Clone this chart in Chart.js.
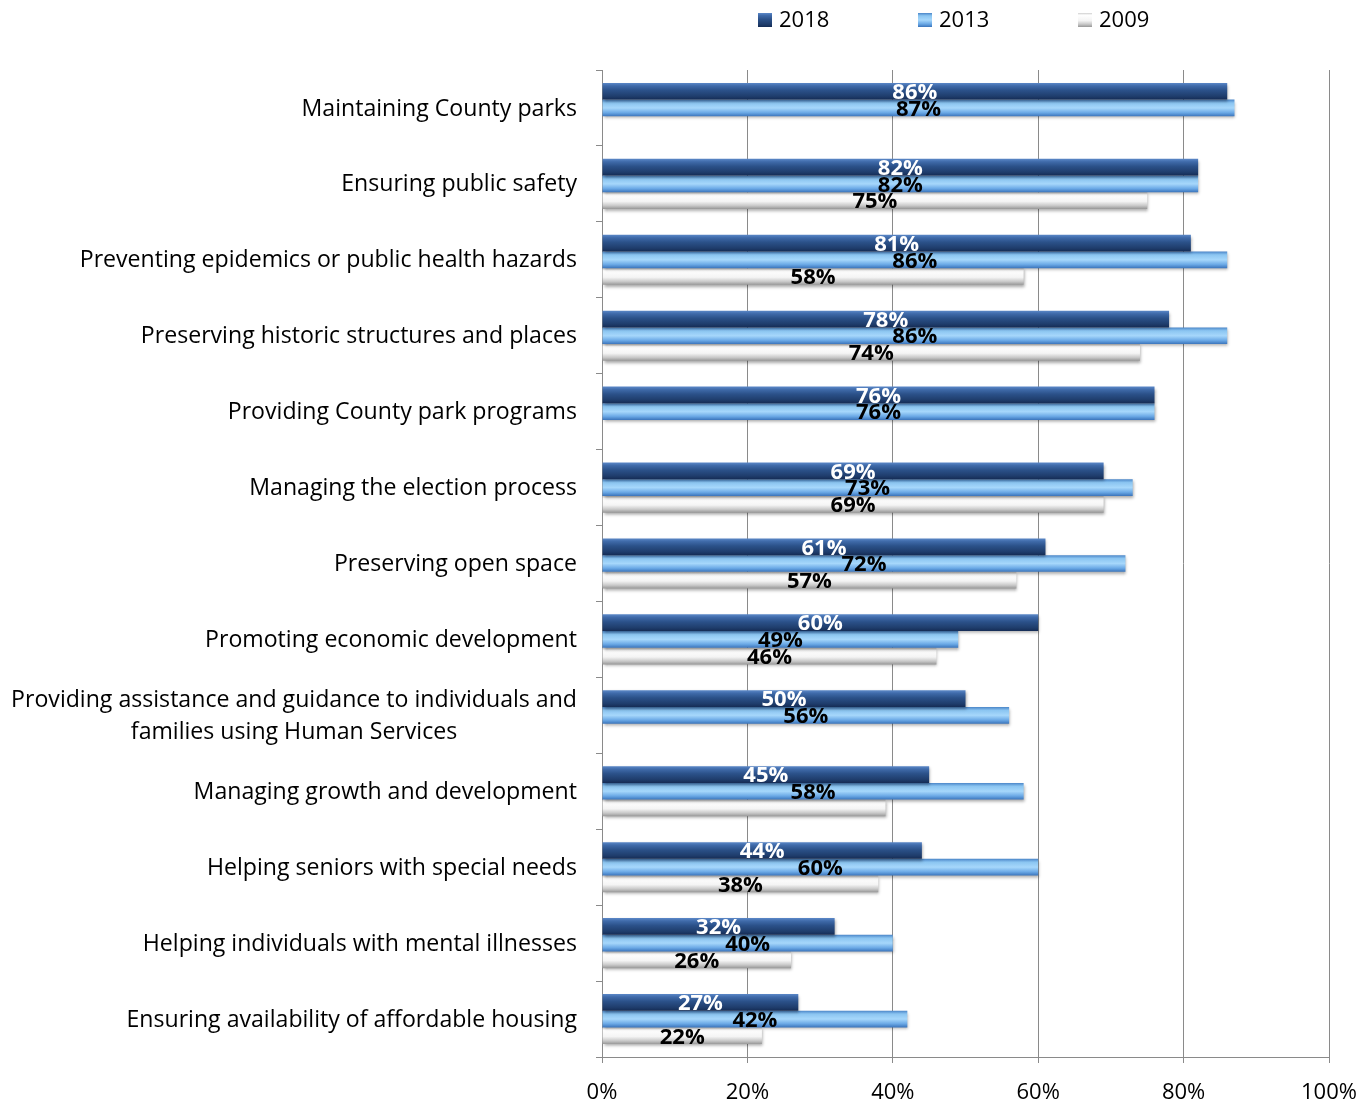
<!DOCTYPE html>
<html><head><meta charset="utf-8">
<script src="https://cdn.jsdelivr.net/npm/chart.js@4.4.1/dist/chart.umd.min.js"></script>
<style>html,body{margin:0;padding:0;background:#fff;overflow:hidden;}#wrap{width:1371px;height:1103px;position:relative;}canvas{display:block;}</style>
</head><body><div id="wrap"><canvas id="c"></canvas></div>
<script>
const categories = [
  'Maintaining County parks',
  'Ensuring public safety',
  'Preventing epidemics or public health hazards',
  'Preserving historic structures and places',
  'Providing County park programs',
  'Managing the election process',
  'Preserving open space',
  'Promoting economic development',
  ['Providing assistance and guidance to individuals and', 'families using Human Services'],
  'Managing growth and development',
  'Helping seniors with special needs',
  'Helping individuals with mental illnesses',
  'Ensuring availability of affordable housing'
];
const seriesNames = ['2018', '2013', '2009'];
const values2018 = [86, 82, 81, 78, 76, 69, 61, 60, 50, 45, 44, 32, 27];
const values2013 = [87, 82, 86, 86, 76, 73, 72, 49, 56, 58, 60, 40, 42];
const values2009 = [null, 75, 58, 74, null, 69, 57, 46, null, 39, 38, 26, 22];
const unlabeled2009 = ['Managing growth and development'];
const xTickValues = [0, 20, 40, 60, 80, 100];
const xTickLabels = ['0%', '20%', '40%', '60%', '80%', '100%'];

const FONT = '"Open Sans", "Noto Sans", sans-serif';
const CAT_PCT = 0.66;
const gradStops = [
  [[0,'#5b88c8'],[0.18,'#3f6aa9'],[0.45,'#2b5189'],[0.8,'#1f3d6c'],[1,'#152c55']],
  [[0,'#4a85c8'],[0.2,'#8bc5f1'],[0.5,'#a6d7fb'],[0.78,'#6ba9e6'],[1,'#3a74bb']],
  [[0,'#cfcfcf'],[0.15,'#ffffff'],[0.55,'#f4f4f4'],[0.8,'#c9c9c9'],[1,'#979797']]
];
const labelColors = ['#ffffff', '#000000', '#000000'];

function makeGrad(c, top, h, stops) {
  const g = c.createLinearGradient(0, top, 0, top + h);
  stops.forEach(s => g.addColorStop(s[0], s[1]));
  return g;
}
function barFill(ctx) {
  const chart = ctx.chart;
  const stops = gradStops[ctx.datasetIndex];
  const y = chart.scales.y;
  if (ctx.type !== 'data' || !y || !chart.chartArea) return stops[2][1];
  const catH = (y.bottom - y.top) / categories.length;
  const thick = catH * CAT_PCT / 3;
  const center = y.getPixelForValue(ctx.dataIndex);
  const top = center - catH * CAT_PCT / 2 + ctx.datasetIndex * thick;
  return makeGrad(chart.ctx, top, thick, stops);
}

const shadowPlugin = {
  id: 'barShadow',
  beforeDatasetDraw(chart) {
    const c = chart.ctx; c.save();
    c.shadowColor = 'rgba(0,0,0,0.35)'; c.shadowOffsetX = 1; c.shadowOffsetY = 2; c.shadowBlur = 3;
  },
  afterDatasetDraw(chart) { chart.ctx.restore(); }
};

const valueLabels = {
  id: 'valueLabels',
  afterDatasetsDraw(chart) {
    const c = chart.ctx;
    c.save();
    c.font = 'bold 22px ' + FONT;
    c.textAlign = 'center';
    c.textBaseline = 'middle';
    chart.data.datasets.forEach((ds, di) => {
      const meta = chart.getDatasetMeta(di);
      meta.data.forEach((el, i) => {
        const v = ds.data[i];
        if (v === null || v === undefined) return;
        if (di === 2 && unlabeled2009.includes(categories[i])) return;
        c.fillStyle = labelColors[di];
        c.fillText(v + '%', (el.base + el.x) / 2, el.y + 1.5);
      });
    });
    c.restore();
  }
};

const catLabels = {
  id: 'catLabels',
  afterDraw(chart) {
    const c = chart.ctx, y = chart.scales.y;
    c.save();
    c.font = '20px ' + FONT;
    const ref = c.measureText('Providing assistance and guidance to individuals and').width;
    const size = 20 * 566 / ref;
    c.font = size.toFixed(2) + 'px ' + FONT;
    c.fillStyle = '#000';
    c.textAlign = 'center';
    c.textBaseline = 'middle';
    const right = chart.chartArea.left - 25;
    const lh = 32;
    categories.forEach((lab, i) => {
      const lines = Array.isArray(lab) ? lab : [lab];
      const widest = Math.max(...lines.map(l => c.measureText(l).width));
      const cx = right - widest / 2;
      const cy = y.getPixelForValue(i) + 1;
      lines.forEach((l, k) => {
        c.fillText(l, cx, cy + (k - (lines.length - 1) / 2) * lh);
      });
    });
    c.restore();
  }
};

const topLegend = {
  id: 'topLegend',
  afterDraw(chart) {
    const c = chart.ctx;
    c.save();
    c.font = '22px ' + FONT;
    c.textBaseline = 'middle';
    c.textAlign = 'left';
    const start = chart.chartArea.left + 156;
    seriesNames.forEach((n, i) => {
      const x = start + i * 160, yc = 20;
      c.fillStyle = makeGrad(c, yc - 7, 14, gradStops[i]);
      c.fillRect(x, yc - 7, 14, 14);
      c.fillStyle = '#000';
      c.fillText(n, x + 21, yc + 1);
    });
    c.restore();
  }
};

new Chart(document.getElementById('c'), {
  type: 'bar',
  data: {
    labels: categories,
    datasets: [
      { label: seriesNames[0], data: values2018, backgroundColor: barFill },
      { label: seriesNames[1], data: values2013, backgroundColor: barFill },
      { label: seriesNames[2], data: values2009, backgroundColor: barFill }
    ]
  },
  options: {
    indexAxis: 'y',
    responsive: true,
    maintainAspectRatio: false,
    animation: false,
    categoryPercentage: CAT_PCT,
    barPercentage: 1.0,
    layout: { padding: { top: 70, right: 42, left: 0, bottom: 0 } },
    plugins: { legend: { display: false }, tooltip: { enabled: false } },
    scales: {
      x: {
        min: 0, max: 100,
        afterBuildTicks(scale) { scale.ticks = xTickValues.map(v => ({ value: v })); },
        afterFit(scale) { scale.height = 46; scale.paddingRight = 0; scale.paddingLeft = 0; },
        ticks: {
          callback: (v, i) => xTickLabels[i],
          font: { family: FONT, size: 22 }, color: '#000', padding: 17, maxRotation: 0
        },
        grid: { color: '#8a8a8a', lineWidth: 1, tickLength: 6 },
        border: { color: '#8a8a8a' }
      },
      y: {
        offset: true,
        afterFit(scale) { scale.width = 602; },
        ticks: { display: false },
        grid: { drawOnChartArea: false, offset: true, color: '#8a8a8a', tickLength: 6 },
        border: { color: '#8a8a8a' }
      }
    }
  },
  plugins: [shadowPlugin, valueLabels, catLabels, topLegend]
});
</script></body></html>
